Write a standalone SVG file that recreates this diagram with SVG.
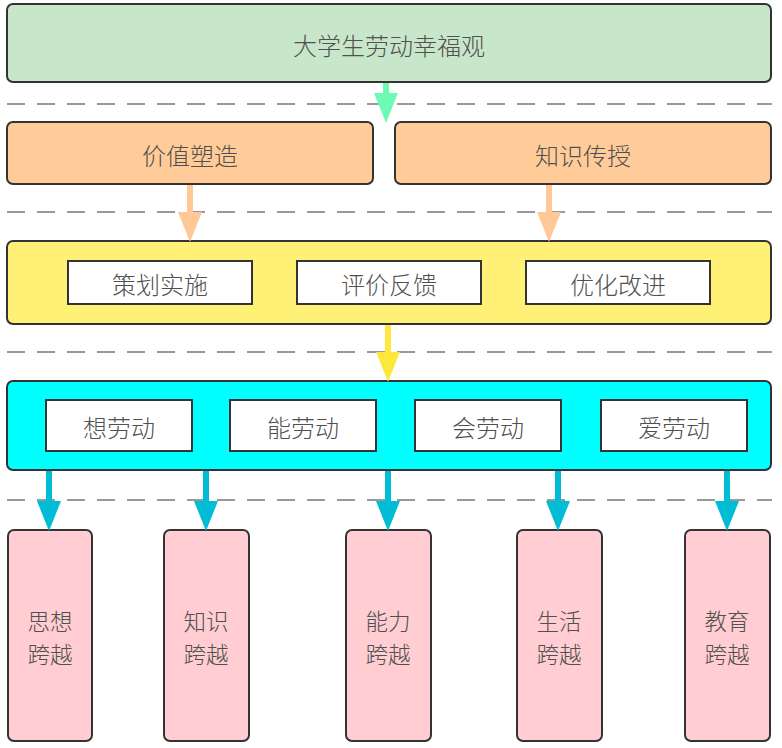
<svg xmlns="http://www.w3.org/2000/svg" width="782" height="748" viewBox="0 0 782 748">
<style>
.box{stroke:#333;stroke-width:2}
.inner{fill:#fff;stroke:#333;stroke-width:2}
.t{font-family:"Noto Sans CJK SC","Noto Sans",sans-serif;font-size:24px;font-weight:300;fill:#505050;text-anchor:middle;dominant-baseline:central}
.v{font-size:22.5px}
.dash{stroke:#999;stroke-width:2;stroke-dasharray:18 12;fill:none}
.sh{stroke-width:6;fill:none}
</style>
<defs>
<marker id="hg" markerUnits="userSpaceOnUse" viewBox="0 0 30 24" refX="1" refY="12" markerWidth="30" markerHeight="24" orient="auto"><path d="M0,0 L30,12 L0,24 z" fill="#6dfab4"/></marker>
<marker id="ho" markerUnits="userSpaceOnUse" viewBox="0 0 30 24" refX="1" refY="12" markerWidth="30" markerHeight="24" orient="auto"><path d="M0,0 L30,12 L0,24 z" fill="#ffc896"/></marker>
<marker id="hy" markerUnits="userSpaceOnUse" viewBox="0 0 30 24" refX="1" refY="12" markerWidth="30" markerHeight="24" orient="auto"><path d="M0,0 L30,12 L0,24 z" fill="#ffe83d"/></marker>
<marker id="hc" markerUnits="userSpaceOnUse" viewBox="0 0 30 24" refX="1" refY="12" markerWidth="30" markerHeight="24" orient="auto"><path d="M0,0 L30,12 L0,24 z" fill="#00bcd4"/></marker>
</defs>
<rect width="782" height="748" fill="#fff"/>
<g id="separators">
<line class="dash" x1="7" y1="104" x2="772" y2="104"/>
<line class="dash" x1="7" y1="212" x2="772" y2="212"/>
<line class="dash" x1="7" y1="352" x2="772" y2="352"/>
<line class="dash" x1="7" y1="500" x2="772" y2="500"/>
</g>
<g id="top">
<rect class="box" x="7" y="4" width="764" height="78" rx="6" fill="#c8e6c9"/>
<text class="t" x="389" y="44">大学生劳动幸福观</text>
</g>
<g id="value">
<rect class="box" x="7" y="122" width="366" height="62" rx="6" fill="#ffcc99"/>
<text class="t" x="190" y="154">价值塑造</text>
</g>
<g id="knowledge">
<rect class="box" x="395" y="122" width="376" height="62" rx="6" fill="#ffcc99"/>
<text class="t" x="583" y="154">知识传授</text>
</g>
<g id="process">
<rect class="box" x="7" y="241" width="764" height="83" rx="6" fill="#fff176"/>
</g>
<g id="plan"><rect class="inner" x="68" y="261" width="184" height="43"/><text class="t" x="160" y="283">策划实施</text></g>
<g id="evaluate"><rect class="inner" x="297" y="261" width="184" height="43"/><text class="t" x="389" y="283">评价反馈</text></g>
<g id="improve"><rect class="inner" x="526" y="261" width="184" height="43"/><text class="t" x="618" y="283">优化改进</text></g>
<g id="labor">
<rect class="box" x="7" y="381" width="764" height="89" rx="6" fill="#00ffff"/>
</g>
<g id="think"><rect class="inner" x="46" y="400" width="146" height="51"/><text class="t" x="119" y="426">想劳动</text></g>
<g id="able"><rect class="inner" x="230" y="400" width="146" height="51"/><text class="t" x="303" y="426">能劳动</text></g>
<g id="will"><rect class="inner" x="415" y="400" width="146" height="51"/><text class="t" x="488" y="426">会劳动</text></g>
<g id="love"><rect class="inner" x="601" y="400" width="146" height="51"/><text class="t" x="674" y="426">爱劳动</text></g>
<g id="p1"><rect class="box" x="8" y="530" width="84" height="211" rx="6" fill="#ffcdd2"/><text class="t v" x="50" y="620"><tspan x="50">思想</tspan><tspan x="50" dy="33">跨越</tspan></text></g>
<g id="p2"><rect class="box" x="164" y="530" width="85" height="211" rx="6" fill="#ffcdd2"/><text class="t v" x="206" y="620"><tspan x="206">知识</tspan><tspan x="206" dy="33">跨越</tspan></text></g>
<g id="p3"><rect class="box" x="346" y="530" width="85" height="211" rx="6" fill="#ffcdd2"/><text class="t v" x="388" y="620"><tspan x="388">能力</tspan><tspan x="388" dy="33">跨越</tspan></text></g>
<g id="p4"><rect class="box" x="517" y="530" width="85" height="211" rx="6" fill="#ffcdd2"/><text class="t v" x="559" y="620"><tspan x="559">生活</tspan><tspan x="559" dy="33">跨越</tspan></text></g>
<g id="p5"><rect class="box" x="685" y="530" width="85" height="211" rx="6" fill="#ffcdd2"/><text class="t v" x="727" y="620"><tspan x="727">教育</tspan><tspan x="727" dy="33">跨越</tspan></text></g>
<g id="connectors">
<line class="sh" stroke="#6dfab4" x1="386" y1="83" x2="386" y2="94" marker-end="url(#hg)"/>
<line class="sh" stroke="#ffc896" x1="190" y1="185" x2="190" y2="213" marker-end="url(#ho)"/>
<line class="sh" stroke="#ffc896" x1="549" y1="185" x2="549" y2="213" marker-end="url(#ho)"/>
<line class="sh" stroke="#ffe83d" x1="388" y1="325" x2="388" y2="353" marker-end="url(#hy)"/>
<line class="sh" stroke="#00bcd4" x1="49" y1="471" x2="49" y2="502" marker-end="url(#hc)"/>
<line class="sh" stroke="#00bcd4" x1="206" y1="471" x2="206" y2="502" marker-end="url(#hc)"/>
<line class="sh" stroke="#00bcd4" x1="388" y1="471" x2="388" y2="502" marker-end="url(#hc)"/>
<line class="sh" stroke="#00bcd4" x1="558" y1="471" x2="558" y2="502" marker-end="url(#hc)"/>
<line class="sh" stroke="#00bcd4" x1="727" y1="471" x2="727" y2="502" marker-end="url(#hc)"/>
</g>
</svg>
